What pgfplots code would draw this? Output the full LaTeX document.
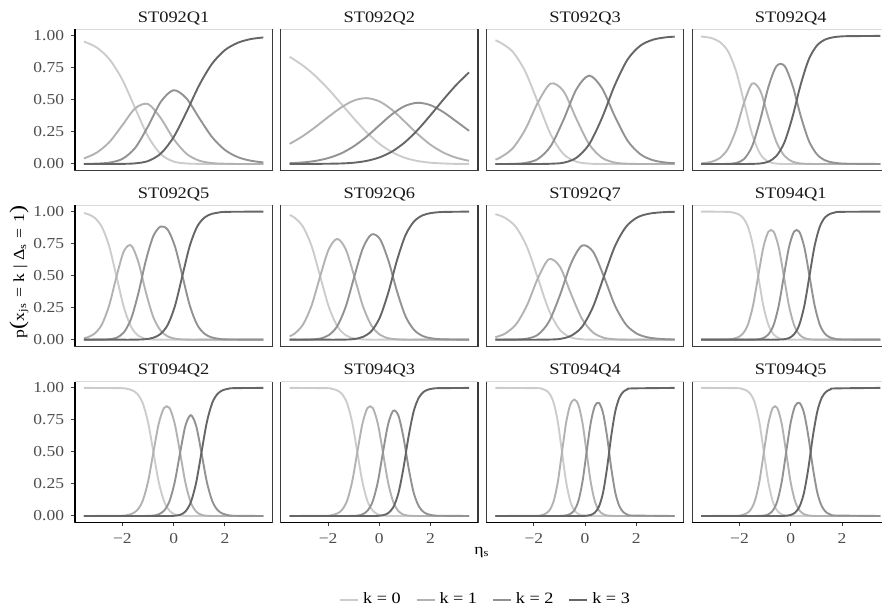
\documentclass[border=0pt]{standalone}
\usepackage{fontspec}
\setmainfont{Liberation Serif}[FakeStretch=1.15]
\usepackage{pgfplots}
\pgfplotsset{compat=1.18}
\usepackage{pgfplotstable}

\definecolor{kzero}{HTML}{CCCCCC}
\definecolor{kone}{HTML}{B2B2B2}
\definecolor{ktwo}{HTML}{929292}
\definecolor{kthree}{HTML}{666666}
\definecolor{framegray}{HTML}{3A3A3A}
\definecolor{topgray}{HTML}{D9D9D9}
\definecolor{ticktext}{HTML}{4D4D4D}

% ST092Q1
\pgfplotstableread{
x p0 p1 p2 p3
-3.5 0.956 0.043 0.001 0
-3.0 0.909 0.089 0.003 0
-2.5 0.816 0.173 0.011 0
-2.0 0.657 0.303 0.040 0.001
-1.5 0.435 0.435 0.126 0.005
-1.0 0.216 0.468 0.294 0.023
-0.5 0.076 0.357 0.486 0.082
0.0 0.019 0.195 0.576 0.210
0.5 0.004 0.080 0.512 0.405
1.0 0.001 0.026 0.358 0.616
1.5 0 0.007 0.210 0.783
2.0 0 0.002 0.110 0.889
2.5 0 0 0.054 0.946
3.0 0 0 0.026 0.975
3.5 0 0 0.012 0.988
}\tA
% ST092Q2
\pgfplotstableread{
x p0 p1 p2 p3
-3.5 0.837 0.157 0.006 0
-3.0 0.771 0.216 0.012 0
-2.5 0.688 0.288 0.024 0.001
-2.0 0.587 0.366 0.046 0.002
-1.5 0.473 0.440 0.082 0.004
-1.0 0.357 0.495 0.138 0.010
-0.5 0.248 0.514 0.213 0.024
0.0 0.158 0.489 0.302 0.051
0.5 0.092 0.422 0.389 0.098
1.0 0.048 0.329 0.453 0.170
1.5 0.023 0.233 0.478 0.267
2.0 0.010 0.150 0.459 0.382
2.5 0.004 0.089 0.405 0.503
3.0 0.001 0.049 0.333 0.617
3.5 0.001 0.025 0.259 0.715
}\tB
% ST092Q3
\pgfplotstableread{
x p0 p1 p2 p3
-3.5 0.965 0.035 0 0
-3.34 0.952 0.047 0 0
-2.84 0.880 0.119 0.001 0
-2.34 0.725 0.267 0.008 0
-1.84 0.480 0.480 0.039 0
-1.34 0.231 0.628 0.140 0.002
-0.84 0.077 0.568 0.345 0.010
-0.34 0.018 0.353 0.582 0.048
0.16 0.003 0.154 0.690 0.154
0.66 0 0.049 0.592 0.359
1.16 0 0.011 0.373 0.615
1.66 0 0.002 0.182 0.816
2.16 0 0 0.076 0.924
2.66 0 0 0.029 0.971
3.16 0 0 0.011 0.989
3.5 0 0 0.006 0.994
}\tC
% ST092Q4
\pgfplotstableread{
x p0 p1 p2 p3
-3.5 0.995 0.005 0 0
-3.397 0.993 0.007 0 0
-3.082 0.982 0.018 0 0
-2.766 0.952 0.047 0 0
-2.451 0.880 0.119 0.001 0
-2.135 0.725 0.267 0.008 0
-1.820 0.480 0.480 0.039 0
-1.505 0.231 0.628 0.140 0.001
-1.189 0.077 0.572 0.347 0.004
-0.874 0.018 0.364 0.600 0.018
-0.558 0.003 0.170 0.764 0.063
-0.243 0 0.063 0.766 0.171
0.073 0 0.018 0.611 0.371
0.388 0 0.004 0.376 0.620
0.704 0 0.001 0.182 0.817
1.019 0 0 0.076 0.924
1.335 0 0 0.029 0.971
1.650 0 0 0.011 0.989
1.966 0 0 0.004 0.996
2.281 0 0 0.002 0.998
3.5 0 0 0 1
}\tD
% ST092Q5
\pgfplotstableread{
x p0 p1 p2 p3
-3.5 0.988 0.012 0 0
-3.373 0.982 0.018 0 0
-3.087 0.953 0.047 0 0
-2.801 0.880 0.119 0.001 0
-2.516 0.729 0.268 0.003 0
-2.230 0.493 0.493 0.015 0
-1.944 0.254 0.690 0.057 0
-1.659 0.100 0.736 0.164 0
-1.373 0.030 0.603 0.366 0.001
-1.087 0.007 0.373 0.616 0.004
-0.801 0.001 0.180 0.805 0.015
-0.516 0 0.073 0.883 0.044
-0.230 0 0.026 0.858 0.116
0.056 0 0.008 0.725 0.267
0.341 0 0.002 0.499 0.499
0.627 0 0 0.269 0.731
0.913 0 0 0.119 0.881
1.199 0 0 0.047 0.953
1.484 0 0 0.018 0.982
1.770 0 0 0.007 0.993
2.056 0 0 0.002 0.998
3.5 0 0 0 1
}\tE
% ST092Q6
\pgfplotstableread{
x p0 p1 p2 p3
-3.5 0.973 0.027 0 0
-3.310 0.953 0.047 0 0
-2.977 0.881 0.119 0 0
-2.643 0.730 0.268 0.002 0
-2.310 0.495 0.495 0.009 0
-1.977 0.259 0.705 0.035 0
-1.643 0.106 0.787 0.106 0
-1.310 0.035 0.705 0.259 0.001
-0.977 0.009 0.493 0.493 0.005
-0.643 0.002 0.263 0.714 0.022
-0.310 0 0.111 0.821 0.067
0.023 0 0.039 0.786 0.175
0.357 0 0.011 0.615 0.373
0.690 0 0.003 0.377 0.621
1.023 0 0 0.182 0.817
1.357 0 0 0.076 0.924
1.690 0 0 0.029 0.971
2.023 0 0 0.011 0.989
2.357 0 0 0.004 0.996
2.690 0 0 0.002 0.998
3.5 0 0 0 1
}\tF
% ST092Q7
\pgfplotstableread{
x p0 p1 p2 p3
-3.5 0.980 0.020 0 0
-3.128 0.952 0.047 0 0
-2.698 0.880 0.119 0.001 0
-2.269 0.725 0.267 0.008 0
-1.840 0.480 0.480 0.039 0
-1.411 0.231 0.628 0.140 0.001
-0.982 0.077 0.570 0.346 0.006
-0.552 0.018 0.360 0.593 0.030
-0.123 0.003 0.164 0.734 0.099
0.306 0 0.057 0.689 0.254
0.735 0 0.015 0.493 0.493
1.164 0 0.003 0.268 0.729
1.594 0 0 0.119 0.880
2.023 0 0 0.047 0.953
2.452 0 0 0.018 0.982
2.881 0 0 0.007 0.993
3.310 0 0 0.002 0.998
3.5 0 0 0.002 0.998
}\tG
% ST094Q1
\pgfplotstableread{
x p0 p1 p2 p3
-3.5 1 0 0 0
-2.47 0.998 0.002 0 0
-2.27 0.993 0.007 0 0
-2.07 0.982 0.018 0 0
-1.87 0.953 0.047 0 0
-1.67 0.881 0.119 0 0
-1.47 0.731 0.269 0.001 0
-1.27 0.498 0.498 0.003 0
-1.07 0.265 0.721 0.013 0
-0.87 0.114 0.844 0.042 0
-0.67 0.042 0.844 0.114 0
-0.47 0.013 0.721 0.265 0.001
-0.27 0.003 0.497 0.497 0.003
-0.07 0.001 0.265 0.721 0.013
0.13 0 0.114 0.844 0.042
0.33 0 0.042 0.844 0.114
0.53 0 0.013 0.721 0.265
0.73 0 0.003 0.498 0.498
0.93 0 0.001 0.269 0.731
1.13 0 0 0.119 0.881
1.33 0 0 0.047 0.953
1.53 0 0 0.018 0.982
1.73 0 0 0.007 0.993
1.93 0 0 0.002 0.998
3.5 0 0 0 1
}\tH
% ST094Q2
\pgfplotstableread{
x p0 p1 p2 p3
-3.5 1 0 0 0
-2.040 0.998 0.002 0 0
-1.832 0.993 0.007 0 0
-1.623 0.982 0.018 0 0
-1.415 0.953 0.047 0 0
-1.207 0.881 0.119 0 0
-0.998 0.731 0.269 0.001 0
-0.790 0.498 0.498 0.003 0
-0.582 0.265 0.721 0.013 0
-0.373 0.114 0.844 0.042 0
-0.165 0.042 0.844 0.114 0
0.043 0.013 0.720 0.265 0.002
0.252 0.003 0.494 0.494 0.009
0.460 0.001 0.259 0.705 0.035
0.668 0 0.106 0.787 0.106
0.877 0 0.035 0.705 0.259
1.085 0 0.009 0.495 0.495
1.293 0 0.002 0.268 0.730
1.502 0 0 0.119 0.881
1.710 0 0 0.047 0.953
1.918 0 0 0.018 0.982
2.127 0 0 0.007 0.993
2.335 0 0 0.002 0.998
3.5 0 0 0 1
}\tI
% ST094Q3
\pgfplotstableread{
x p0 p1 p2 p3
-3.5 1 0 0 0
-2.06 0.998 0.002 0 0
-1.86 0.993 0.007 0 0
-1.66 0.982 0.018 0 0
-1.46 0.953 0.047 0 0
-1.26 0.881 0.119 0 0
-1.06 0.731 0.269 0.001 0
-0.86 0.498 0.498 0.003 0
-0.66 0.265 0.721 0.013 0
-0.46 0.114 0.844 0.042 0
-0.26 0.042 0.844 0.114 0
-0.06 0.013 0.721 0.265 0.001
0.14 0.003 0.496 0.496 0.006
0.34 0.001 0.263 0.715 0.022
0.54 0 0.111 0.821 0.067
0.74 0 0.039 0.786 0.175
0.94 0 0.011 0.615 0.373
1.14 0 0.003 0.377 0.621
1.34 0 0 0.182 0.817
1.54 0 0 0.076 0.924
1.74 0 0 0.029 0.971
1.94 0 0 0.011 0.989
2.14 0 0 0.004 0.996
2.34 0 0 0.002 0.998
3.5 0 0 0 1
}\tJ
% ST094Q4
\pgfplotstableread{
x p0 p1 p2 p3
-3.5 1 0 0 0
-1.86 0.998 0.002 0 0
-1.70 0.993 0.007 0 0
-1.54 0.982 0.018 0 0
-1.38 0.953 0.047 0 0
-1.22 0.881 0.119 0 0
-1.06 0.731 0.269 0 0
-0.90 0.499 0.499 0.001 0
-0.74 0.268 0.727 0.005 0
-0.58 0.117 0.867 0.016 0
-0.42 0.045 0.909 0.045 0
-0.26 0.016 0.867 0.117 0
-0.10 0.005 0.727 0.268 0
0.06 0.001 0.498 0.498 0.002
0.22 0 0.267 0.725 0.008
0.38 0 0.116 0.858 0.026
0.54 0 0.044 0.883 0.073
0.70 0 0.015 0.806 0.180
0.86 0 0.004 0.620 0.376
1.02 0 0.001 0.377 0.622
1.18 0 0 0.182 0.817
1.34 0 0 0.076 0.924
1.50 0 0 0.029 0.971
1.66 0 0 0.011 0.989
1.82 0 0 0.004 0.996
3.5 0 0 0 1
}\tK
% ST094Q5
\pgfplotstableread{
x p0 p1 p2 p3
-3.5 1 0 0 0
-2.093 0.998 0.002 0 0
-1.920 0.993 0.007 0 0
-1.746 0.982 0.018 0 0
-1.572 0.953 0.047 0 0
-1.398 0.881 0.119 0 0
-1.224 0.731 0.269 0.001 0
-1.050 0.498 0.498 0.003 0
-0.876 0.265 0.721 0.013 0
-0.702 0.114 0.844 0.042 0
-0.528 0.042 0.844 0.114 0
-0.354 0.013 0.721 0.265 0
-0.180 0.003 0.497 0.497 0.002
-0.007 0.001 0.267 0.725 0.008
0.167 0 0.116 0.858 0.026
0.341 0 0.044 0.883 0.073
0.515 0 0.015 0.806 0.180
0.689 0 0.004 0.620 0.376
0.863 0 0.001 0.377 0.622
1.037 0 0 0.182 0.817
1.211 0 0 0.076 0.924
1.385 0 0 0.029 0.971
1.559 0 0 0.011 0.989
1.733 0 0 0.004 0.996
3.5 0 0 0 1
}\tL

\pgfplotsset{
  panel/.style={
    scale only axis, width=98.65pt, height=70.45pt,
    xmin=-3.85, xmax=3.85, ymin=-0.05, ymax=1.05,
    axis line style={draw=none}, clip=false,
    xtick=\empty, ytick=\empty,
    tick align=outside, major tick length=1.8pt,
    every tick/.style={framegray, line width=0.5pt},
    ticklabel style={font=\fontsize{7.6}{8}\selectfont, text=ticktext, inner sep=0pt},
    title style={at={(0.5,1)}, anchor=base, yshift=-2.7pt, inner sep=0pt,
      font=\fontsize{8}{9}\selectfont, text=black!90},
    every axis plot/.append style={line width=0.95pt, smooth, no markers},
  },
  lefty/.style={ytick={0,0.25,0.5,0.75,1}, yticklabels={0.00,0.25,0.50,0.75,1.00},
    ytick pos=left, yticklabel style={anchor=east, xshift=-3.5pt},
    after end axis/.append code={\draw[black, line width=0.7pt] (rel axis cs:0,0) -- (rel axis cs:0,1);}},
  bottomx/.style={xtick={-2,0,2}, xticklabels={−2,0,2},
    xtick pos=bottom, xticklabel style={anchor=north, yshift=-3.6pt},
    after end axis/.append code={\draw[black, line width=0.7pt] (rel axis cs:0,0) -- (rel axis cs:1,0);}},
  klegend/.style={
    legend entries={{k = 0},{k = 1},{k = 2},{k = 3}},
    legend columns=4,
    legend style={at={(2.086,-0.55)}, anchor=center, draw=none, fill=none,
      font=\fontsize{7.9}{9}\selectfont,
      /tikz/every even column/.append style={column sep=5.5pt}},
    legend image code/.code={\draw[##1, line width=0.95pt] (0pt,0pt) -- (9pt,0pt);}},
}

\newcommand\panel[5]{%
  \begin{axis}[panel, at={(#1,#2)}, anchor=south west, title={#4}, #5]
    \addplot[kzero] table[x=x,y=p0]{#3};
    \addplot[kone] table[x=x,y=p1]{#3};
    \addplot[ktwo] table[x=x,y=p2]{#3};
    \addplot[kthree] table[x=x,y=p3]{#3};
    \draw[topgray, line width=0.5pt] (rel axis cs:0,1) -- (rel axis cs:1,1);
    \draw[framegray, line width=0.55pt] (rel axis cs:0,1) -- (rel axis cs:0,0) -- (rel axis cs:1,0) -- (rel axis cs:1,1);
  \end{axis}}

\begin{document}
\begin{tikzpicture}
\panel{37.5pt}{220.3pt}{\tA}{ST092Q1}{lefty}
\panel{140.35pt}{220.3pt}{\tB}{ST092Q2}{}
\panel{243.2pt}{220.3pt}{\tC}{ST092Q3}{}
\panel{346.05pt}{220.3pt}{\tD}{ST092Q4}{}
\panel{37.5pt}{132.45pt}{\tE}{ST092Q5}{lefty}
\panel{140.35pt}{132.45pt}{\tF}{ST092Q6}{}
\panel{243.2pt}{132.45pt}{\tG}{ST092Q7}{}
\panel{346.05pt}{132.45pt}{\tH}{ST094Q1}{}
\panel{37.5pt}{44.3pt}{\tI}{ST094Q2}{lefty, bottomx, klegend}
\panel{140.35pt}{44.3pt}{\tJ}{ST094Q3}{bottomx}
\panel{243.2pt}{44.3pt}{\tK}{ST094Q4}{bottomx}
\panel{346.05pt}{44.3pt}{\tL}{ST094Q5}{bottomx}
\node[rotate=90, font=\fontsize{7.7}{8}\selectfont] at (9.5pt,169.5pt)
  {p{\fontsize{10.5}{10}\selectfont(}x\textsubscript{js}\hspace{0.35em}=\hspace{0.35em}k\hspace{0.3em}|\hspace{0.3em}Δ\textsubscript{s}\hspace{0.35em}=\hspace{0.35em}1{\fontsize{10.5}{10}\selectfont)}};
\node[font=\fontsize{7.7}{8}\selectfont] at (241pt,29pt) {η\textsubscript{s}};
\pgfresetboundingbox
\path (0,0) rectangle (441pt,305.5pt);
\end{tikzpicture}
\end{document}
